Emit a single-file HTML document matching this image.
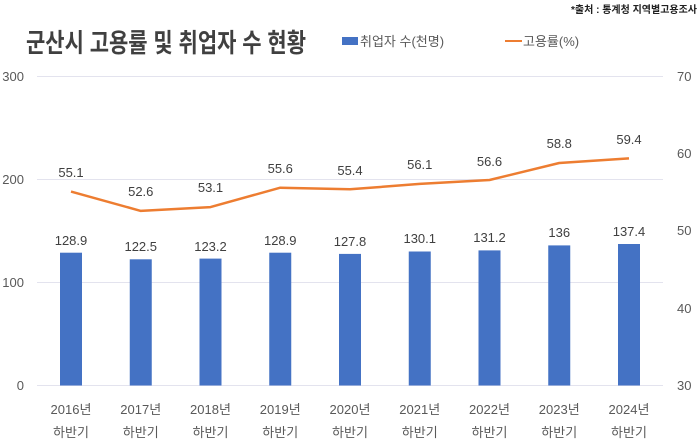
<!DOCTYPE html><html><head><meta charset="utf-8"><style>body{margin:0;background:#fff}svg{display:block}text{font-family:"Liberation Sans","Noto Sans CJK KR",sans-serif}</style></head><body>
<svg width="700" height="443" viewBox="0 0 700 443" xmlns="http://www.w3.org/2000/svg">
<text x="697" y="13" font-size="10" text-anchor="end" fill="#222" font-weight="bold">*출처 : 통계청 지역별고용조사</text>
<text x="26" y="52" font-size="26" font-weight="bold" fill="#404040" textLength="280" lengthAdjust="spacingAndGlyphs">군산시 고용률 및 취업자 수 현황</text>
<rect x="342" y="37" width="16" height="8" fill="#4472C4"/>
<text x="360" y="46" font-size="13" fill="#595959">취업자 수(천명)</text>
<line x1="505" y1="41" x2="522" y2="41" stroke="#ED7D31" stroke-width="2"/>
<text x="523" y="46" font-size="13" fill="#595959">고용률(%)</text>
<g stroke="#e3e3ee" stroke-width="1">
<line x1="37" y1="76.5" x2="663" y2="76.5"/><line x1="37" y1="179.5" x2="663" y2="179.5"/><line x1="37" y1="282.5" x2="663" y2="282.5"/><line x1="37" y1="385.5" x2="663" y2="385.5"/></g>
<g font-size="13" fill="#595959" text-anchor="end">
<text x="24" y="81">300</text><text x="24" y="184">200</text><text x="24" y="287">100</text><text x="24" y="390">0</text></g>
<g font-size="13" fill="#595959">
<text x="677" y="81">70</text><text x="677" y="158">60</text><text x="677" y="235">50</text><text x="677" y="313">40</text><text x="677" y="390">30</text></g>
<g fill="#4472C4">
<rect x="60" y="252.7" width="22" height="132.8"/>
<rect x="129.75" y="259.3" width="22" height="126.2"/>
<rect x="199.5" y="258.6" width="22" height="126.9"/>
<rect x="269.25" y="252.7" width="22" height="132.8"/>
<rect x="339" y="253.9" width="22" height="131.6"/>
<rect x="408.75" y="251.5" width="22" height="134"/>
<rect x="478.5" y="250.4" width="22" height="135.1"/>
<rect x="548.25" y="245.4" width="22" height="140.1"/>
<rect x="618" y="244" width="22" height="141.5"/>
</g>
<polyline points="71,191.6 140.75,210.9 210.5,207.1 280.25,187.7 350,189.3 419.75,183.9 489.5,180 559.25,163 629,158.4" fill="none" stroke="#ED7D31" stroke-width="2.5" stroke-linejoin="round"/>
<g font-size="13" fill="#404040" text-anchor="middle">
<text x="71" y="245">128.9</text><text x="140.75" y="251">122.5</text><text x="210.5" y="251">123.2</text><text x="280.25" y="245">128.9</text><text x="350" y="246">127.8</text><text x="419.75" y="243">130.1</text><text x="489.5" y="242">131.2</text><text x="559.25" y="237">136</text><text x="629" y="236">137.4</text>
<text x="71" y="177">55.1</text><text x="140.75" y="196">52.6</text><text x="210.5" y="192">53.1</text><text x="280.25" y="173">55.6</text><text x="350" y="175">55.4</text><text x="419.75" y="169">56.1</text><text x="489.5" y="166">56.6</text><text x="559.25" y="148">58.8</text><text x="629" y="144">59.4</text>
</g>
<g font-size="13" fill="#595959" text-anchor="middle">
<text x="71" y="414">2016년</text><text x="140.75" y="414">2017년</text><text x="210.5" y="414">2018년</text><text x="280.25" y="414">2019년</text><text x="350" y="414">2020년</text><text x="419.75" y="414">2021년</text><text x="489.5" y="414">2022년</text><text x="559.25" y="414">2023년</text><text x="629" y="414">2024년</text>
<text x="71" y="437">하반기</text><text x="140.75" y="437">하반기</text><text x="210.5" y="437">하반기</text><text x="280.25" y="437">하반기</text><text x="350" y="437">하반기</text><text x="419.75" y="437">하반기</text><text x="489.5" y="437">하반기</text><text x="559.25" y="437">하반기</text><text x="629" y="437">하반기</text>
</g>
</svg>
</body></html>
